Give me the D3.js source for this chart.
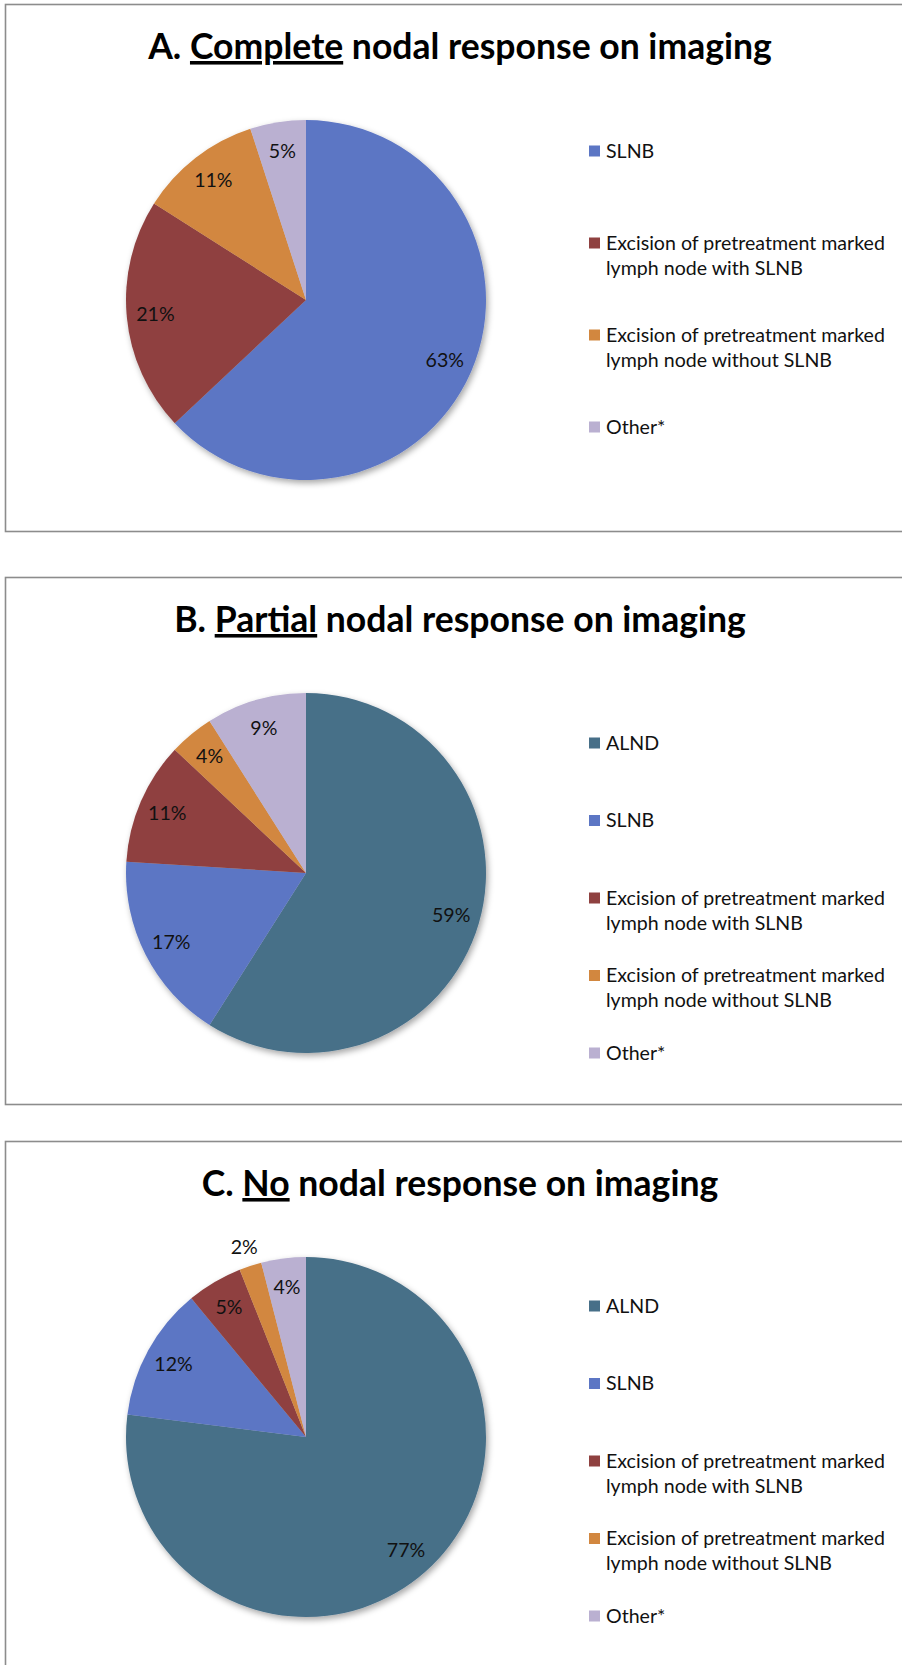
<!DOCTYPE html>
<html>
<head>
<meta charset="utf-8">
<script src="https://cdn.jsdelivr.net/npm/d3@7"></script>
<style>
  body { margin: 0; background: #fff; }
</style>
</head>
<body>
<svg width="902" height="1665"></svg>
<script>
// panel titles: lead, underlined word, tail
var titleLeads = ["A. ", "B. ", "C. "];
var titleKeys = ["Complete", "Partial", "No"];
var titleTail = " nodal response on imaging";

// A. complete nodal response
var categoriesA = ["SLNB",
  "Excision of pretreatment marked lymph node with SLNB",
  "Excision of pretreatment marked lymph node without SLNB",
  "Other*"];
var valuesA = [63, 21, 11, 5];

// B. partial and C. no nodal response
var categoriesBC = ["ALND", "SLNB",
  "Excision of pretreatment marked lymph node with SLNB",
  "Excision of pretreatment marked lymph node without SLNB",
  "Other*"];
var valuesB = [59, 17, 11, 4, 9];
var valuesC = [77, 12, 5, 2, 4];

var colors = d3.scaleOrdinal()
  .domain(categoriesBC)
  .range(["#476f88", "#5c76c4", "#8f4140", "#d2873f", "#bab0d1"]);

var FONT = "Lato, 'Open Sans', 'Noto Sans', sans-serif";

var svg = d3.select("svg");

var defs = svg.append("defs");
var shadow = defs.append("filter").attr("id", "shadow")
  .attr("x", "-10%").attr("y", "-10%").attr("width", "130%").attr("height", "130%");
shadow.append("feDropShadow")
  .attr("dx", 2).attr("dy", 3).attr("stdDeviation", 3)
  .attr("flood-color", "#000").attr("flood-opacity", 0.35);

function textWidth(str, size, weight) {
  var t = svg.append("text")
    .attr("font-family", FONT).attr("font-size", size).attr("font-weight", weight)
    .text(str);
  var w = t.node().getComputedTextLength();
  t.remove();
  return w;
}

// fit fonts to the widths measured on the picture
var bodySize = 20 * 279 / textWidth("Excision of pretreatment marked", 20, "normal");
var titleSize = 40 * 624 / textWidth("A. Complete nodal response on imaging", 40, "bold");

function wrap(str, maxW) {
  var words = str.split(" "), lines = [], line = "";
  words.forEach(function(w) {
    var test = line ? line + " " + w : w;
    if (line && textWidth(test, bodySize, "normal") > maxW) {
      lines.push(line);
      line = w;
    } else {
      line = test;
    }
  });
  lines.push(line);
  return lines;
}

var panels = [
  {top: 4,    cats: categoriesA,  vals: valuesA, legTop: 147, legStep: 92},
  {top: 577,  cats: categoriesBC, vals: valuesB, legTop: 166, legStep: 77.5},
  {top: 1141, cats: categoriesBC, vals: valuesC, legTop: 165, legStep: 77.5}
];

var boxH = 527, radius = 180, cx = 306, cyOff = 296;

var pie = d3.pie().sort(null).value(function(d) { return d.value; });
var arc = d3.arc().innerRadius(0).outerRadius(radius);
var labelArc = d3.arc().innerRadius(radius * 0.84).outerRadius(radius * 0.84);
var outerLabelArc = d3.arc().innerRadius(radius * 1.11).outerRadius(radius * 1.11);

panels.forEach(function(p, i) {
  var g = svg.append("g").attr("transform", "translate(0," + p.top + ")");

  g.append("rect")
    .attr("x", 5.5).attr("y", 0.5)
    .attr("width", 960).attr("height", boxH)
    .attr("fill", "#fff")
    .attr("stroke", "#8c8c8c").attr("stroke-width", 1.6);

  var title = g.append("text")
    .attr("x", 460).attr("y", 55)
    .attr("text-anchor", "middle")
    .attr("font-family", FONT).attr("font-weight", "bold")
    .attr("font-size", titleSize).attr("fill", "#000");
  title.append("tspan").text(titleLeads[i]);
  title.append("tspan").attr("text-decoration", "underline").text(titleKeys[i]);
  title.append("tspan").text(titleTail);

  var data = p.cats.map(function(c, k) { return {cat: c, value: p.vals[k]}; });
  var arcs = pie(data);

  var pg = g.append("g").attr("transform", "translate(" + cx + "," + cyOff + ")");
  pg.append("g").attr("filter", "url(#shadow)")
    .selectAll("path").data(arcs).enter().append("path")
    .attr("d", arc)
    .attr("fill", function(d) { return colors(d.data.cat); });

  pg.selectAll("text.pct").data(arcs).enter().append("text")
    .attr("class", "pct")
    .attr("transform", function(d) {
      var c = d.data.value < 3 ? outerLabelArc.centroid(d) : labelArc.centroid(d);
      return "translate(" + c + ")";
    })
    .attr("text-anchor", "middle")
    .attr("dy", "0.35em")
    .attr("font-family", FONT).attr("font-size", bodySize).attr("fill", "#111")
    .text(function(d) { return d.data.value + "%"; });

  // legend
  var lg = g.append("g").attr("transform", "translate(589," + p.legTop + ")");
  var items = lg.selectAll("g").data(data).enter().append("g")
    .attr("transform", function(d, k) { return "translate(0," + k * p.legStep + ")"; });
  items.append("rect")
    .attr("x", 0).attr("y", -5.5).attr("width", 11).attr("height", 11)
    .attr("fill", function(d) { return colors(d.cat); });
  items.append("text")
    .attr("x", 17)
    .attr("font-family", FONT).attr("font-size", bodySize).attr("fill", "#111")
    .each(function(d) {
      var t = d3.select(this);
      wrap(d.cat, 290).forEach(function(line, j) {
        t.append("tspan").attr("x", 17).attr("y", j * 25).attr("dy", "0.35em").text(line);
      });
    });
});
</script>
</body>
</html>
